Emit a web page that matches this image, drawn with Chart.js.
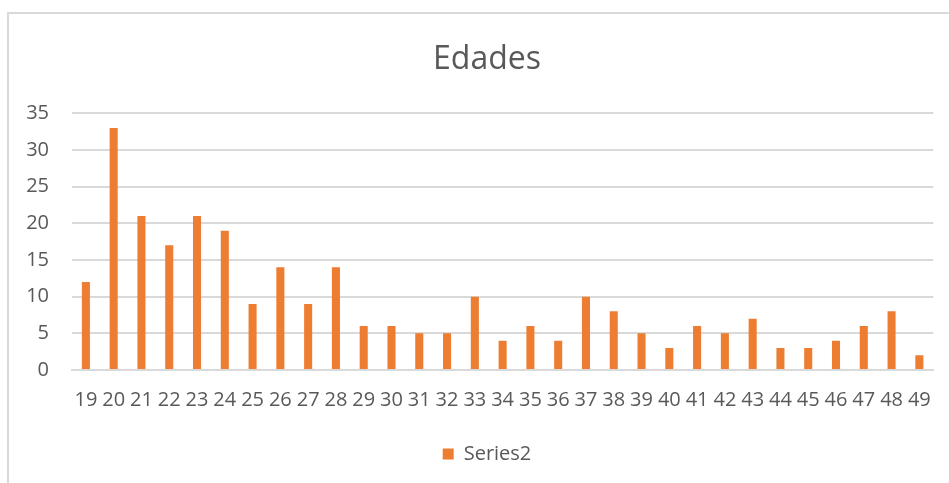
<!DOCTYPE html>
<html>
<head>
<meta charset="utf-8">
<script src="https://cdn.jsdelivr.net/npm/chart.js@4"></script>
<style>
  html, body { margin: 0; padding: 0; background: #fff; overflow: hidden; }
  #frame {
    position: absolute; left: 7px; top: 12px; width: 1000px; height: 600px;
    border-left: 2px solid #d9d9d9; border-top: 2px solid #d9d9d9;
  }
  #wrap { position: absolute; left: 0; top: 0; width: 949px; height: 483px; }
</style>
</head>
<body>
<div id="frame"></div>
<div id="wrap"><canvas id="edadesChart"></canvas></div>
<script>
// Datos del gráfico
const ages = ['19', '20', '21', '22', '23', '24', '25', '26', '27', '28', '29', '30', '31', '32', '33',
              '34', '35', '36', '37', '38', '39', '40', '41', '42', '43', '44', '45', '46', '47', '48', '49'];
const series2 = [12, 33, 21, 17, 21, 19, 9, 14, 9, 14, 6, 6, 5, 5, 10,
                 4, 6, 4, 10, 8, 5, 3, 6, 5, 7, 3, 3, 4, 6, 8, 2];
const yTicks = [0, 5, 10, 15, 20, 25, 30, 35];

const textColor = '#595959';
const gridColor = '#d9d9d9';
const fontFamily = '"Open Sans", "Noto Sans", sans-serif';

// El marco original es más ancho que la ventana: título y leyenda quedan
// centrados un poco a la derecha del lienzo visible
const centerShift = {
  id: 'centerShift',
  afterLayout(chart) {
    [chart.titleBlock, chart.legend].forEach(box => {
      if (!box) return;
      box.left += 19;
      box.right += 19;
    });
  }
};

const ctx = document.getElementById('edadesChart').getContext('2d');

window.edadesChart = new Chart(ctx, {
  type: 'bar',
  data: {
    labels: ages,
    datasets: [{
      label: 'Series2',
      data: series2,
      backgroundColor: '#ed7d31',
      borderWidth: 0,
      barPercentage: 0.29,
      categoryPercentage: 1
    }]
  },
  options: {
    responsive: true,
    maintainAspectRatio: false,
    animation: false,
    layout: { padding: { left: 0, right: 13, top: 0, bottom: 9 } },
    scales: {
      x: {
        grid: { display: false, drawTicks: false },
        border: { display: true, color: gridColor, width: 2 },
        ticks: {
          color: textColor, font: { family: fontFamily, size: 20 },
          autoSkip: false, maxRotation: 0, minRotation: 0, padding: 18
        },
        afterFit: function(scale) { scale.height = 62; }
      },
      y: {
        min: 0, max: 35,
        grid: { color: gridColor, lineWidth: 2, drawTicks: false },
        border: { display: false },
        afterBuildTicks: function(scale) {
          scale.ticks = yTicks.map(v => ({ value: v }));
        },
        ticks: {
          color: textColor, font: { family: fontFamily, size: 20 }, padding: 23
        },
        afterFit: function(scale) { scale.width = 72; }
      }
    },
    plugins: {
      title: {
        display: true,
        text: 'Edades',
        color: textColor,
        font: { family: fontFamily, size: 32, weight: 'normal' },
        padding: { top: 41, bottom: 34 }
      },
      legend: {
        position: 'bottom',
        labels: {
          color: textColor, font: { family: fontFamily, size: 20 },
          boxWidth: 11, boxHeight: 11, padding: 12
        }
      },
      tooltip: { enabled: false }
    }
  },
  plugins: [centerShift]
});
</script>
</body>
</html>
